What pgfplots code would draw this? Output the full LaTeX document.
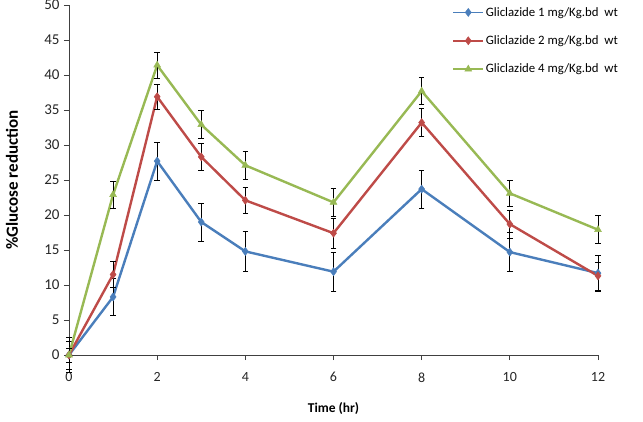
\documentclass[border=0pt]{standalone}
\usepackage{pgfplots}
\pgfplotsset{compat=1.18}
\usepackage{fontspec}
\setmainfont{Carlito}
\definecolor{cblue}{HTML}{4A7EBB}
\definecolor{cred}{HTML}{BE4B48}
\definecolor{cgreen}{HTML}{98B954}
\begin{document}
\begin{tikzpicture}
\begin{axis}[
  name=ax,
  scale only axis,
  width=529pt, height=350pt,
  xmin=0, xmax=12, ymin=0, ymax=50,
  axis x line=bottom, axis y line=left,
  axis line style={-, draw=black!75, line width=0.8pt},
  xtick={0,2,...,12}, ytick={0,5,...,50},
  tick align=outside, major tick length=5pt,
  tick style={black!75, line width=0.8pt},
  clip=false,
  /pgf/number format/assume math mode=true,
  xticklabel style={font=\fontsize{14}{16}\selectfont, text=black!85, yshift=-9pt},
  yticklabel style={font=\fontsize{15}{17}\selectfont, text=black!85, xshift=-1pt},
  xlabel={\textbf{Time (hr)}},
  ylabel={\textbf{\%Glucose reduction}},
  xlabel style={font=\fontsize{13.5}{15}\selectfont, at={(axis description cs:0.5,-0.154)}, anchor=center},
  ylabel style={font=\fontsize{17}{19}\selectfont, at={(axis description cs:-0.108,0.5)}, anchor=center},
  legend style={draw=none, fill=none, at={(rel axis cs:0.725,1.0)}, anchor=north west,
    font=\fontsize{12.8}{14}\selectfont, row sep=14pt, legend cell align=left,
    inner sep=0pt, nodes={inner sep=2pt}},
  legend image code/.code={\draw[mark repeat=2,mark phase=2,line width=1.5pt] plot coordinates {(0cm,0cm)(0.52cm,0cm)(1.04cm,0cm)};},
  every axis plot/.append style={line width=2.4pt},
  error bars/error bar style={black, line width=0.7pt},
  error bars/error mark options={rotate=90, black, mark size=2.8pt, line width=0.7pt},
]
\addplot+[cblue, mark=diamond*, mark size=4pt, mark options={fill=cblue, draw=cblue, line width=0.5pt},
  error bars/.cd, y dir=both, y explicit] coordinates {
  (0,0) +- (0,2.0)
  (1,8.3) +- (0,2.7)
  (2,27.7) +- (0,2.7)
  (3,19.0) +- (0,2.7)
  (4,14.8) +- (0,2.8)
  (6,11.9) +- (0,2.8)
  (8,23.7) +- (0,2.7)
  (10,14.7) +- (0,2.8)
  (12,11.7) +- (0,2.6)
};
\addlegendentry{Gliclazide 1 mg/Kg.bd\ \ wt}
\addplot+[cred, mark=diamond*, mark size=4pt, mark options={fill=cred, draw=cred, line width=0.5pt},
  error bars/.cd, y dir=both, y explicit] coordinates {
  (0,0) +- (0,2.5)
  (1,11.5) +- (0,1.9)
  (2,36.9) +- (0,1.8)
  (3,28.3) +- (0,1.9)
  (4,22.1) +- (0,1.9)
  (6,17.4) +- (0,2.1)
  (8,33.2) +- (0,2.0)
  (10,18.7) +- (0,2.0)
  (12,11.3) +- (0,2.0)
};
\addlegendentry{Gliclazide 2 mg/Kg.bd\ \ wt}
\addplot+[cgreen, mark=triangle*, mark size=4pt, mark options={fill=cgreen, draw=cgreen, line width=0.5pt},
  error bars/.cd, y dir=both, y explicit] coordinates {
  (0,0) +- (0,1.0)
  (1,22.9) +- (0,1.9)
  (2,41.4) +- (0,1.9)
  (3,32.9) +- (0,2.0)
  (4,27.1) +- (0,2.0)
  (6,21.8) +- (0,2.0)
  (8,37.7) +- (0,1.9)
  (10,23.1) +- (0,1.9)
  (12,17.9) +- (0,2.0)
};
\addlegendentry{Gliclazide 4 mg/Kg.bd\ \ wt}
\end{axis}
\pgfresetboundingbox
\useasboundingbox (ax.south west) ++(-69pt,-66pt) rectangle ++(643pt,421pt);
\end{tikzpicture}
\end{document}
